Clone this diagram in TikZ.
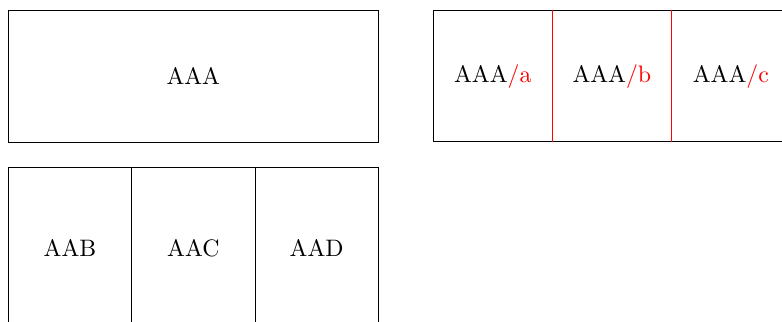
\documentclass[tikz,border=0pt]{standalone}
\usepackage{tikz}
\usetikzlibrary{positioning}

\tikzset{
  cell/.style={rectangle, inner sep=0pt, outer sep=0pt, minimum width=50pt, minimum height=55.3pt},
  lowcell/.style={rectangle, draw, inner sep=0pt, outer sep=0pt, minimum width=51.8pt, minimum height=68pt}
}

\begin{document}
\begin{tikzpicture}[x=0.42pt,y=-0.42pt]
\clip (0,0) rectangle (782,321);
% upper left box
\node[draw, rectangle, inner sep=0pt, minimum width=155.4pt, minimum height=55.3pt] (aaa) at (193.3,76.3) {AAA};
% upper right, split in three
\node[cell] (aaaa) at (492.8,76.1) {AAA\textcolor{red}{/a}};
\node[cell, right=0pt of aaaa] (aaab) {AAA\textcolor{red}{/b}};
\node[cell, right=0pt of aaab] (aaac) {AAA\textcolor{red}{/c}};
\draw (aaaa.north west) rectangle (aaac.south east);
\draw[red] (aaaa.north east) -- (aaaa.south east);
\draw[red] (aaab.north east) -- (aaab.south east);
% lower row
\node[lowcell] (aab) at (70,248.3) {AAB};
\node[lowcell, right=0pt of aab] (aac) {AAC};
\node[lowcell, right=0pt of aac] (aad) {AAD};
\end{tikzpicture}
\end{document}
